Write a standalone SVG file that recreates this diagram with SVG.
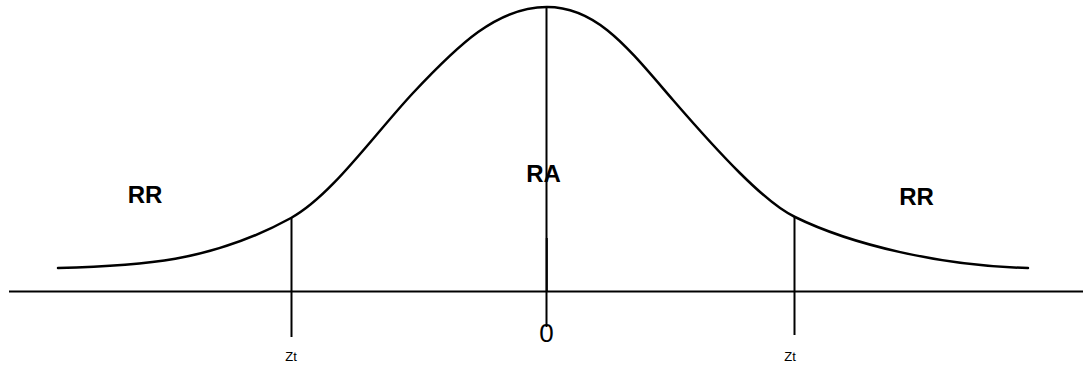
<svg xmlns="http://www.w3.org/2000/svg" width="1083" height="367" viewBox="0 0 1083 367">
<style>
.ln{stroke:#000;stroke-width:2;fill:none}
.crv{stroke:#000;stroke-width:2.5;fill:none;stroke-linecap:round}
.lbl{font-family:"Liberation Sans",Arial,sans-serif;font-weight:bold;font-size:24px;fill:#000}
.tick{font-family:"Liberation Sans",Arial,sans-serif;font-size:13px;fill:#000}
.zero{font-family:"Liberation Sans",Arial,sans-serif;font-size:26px;fill:#000}
</style>
<rect width="1083" height="367" fill="#fff"/>
<g id="curve">
<path class="crv" d="M58,268 C140,266 211,262 291,218 C331,196 373,136 413,93 C458,45 497,7 547,7 C597,7 628,48 673,100 C718,152 765,203 795,217 C850,244 940,266 1028,268"/>
</g>
<g id="connectors">
<line class="ln" x1="9" y1="291.5" x2="1083" y2="291.5"/>
<line class="ln" x1="546.5" y1="7" x2="546.5" y2="327"/>
<line class="ln" x1="546.8" y1="238" x2="546.8" y2="291"/>
<line class="ln" x1="291.5" y1="218" x2="291.5" y2="337"/>
<line class="ln" x1="794.5" y1="217" x2="794.5" y2="335"/>
</g>
<g id="labels">
<text class="lbl" x="145" y="203" text-anchor="middle">RR</text>
<text class="lbl" x="543.5" y="182" text-anchor="middle">RA</text>
<text class="lbl" x="916.5" y="205" text-anchor="middle">RR</text>
<text class="zero" x="546.5" y="342" text-anchor="middle">0</text>
<text class="tick" x="291" y="361" text-anchor="middle">Zt</text>
<text class="tick" x="790" y="361" text-anchor="middle">Zt</text>
</g>
</svg>
